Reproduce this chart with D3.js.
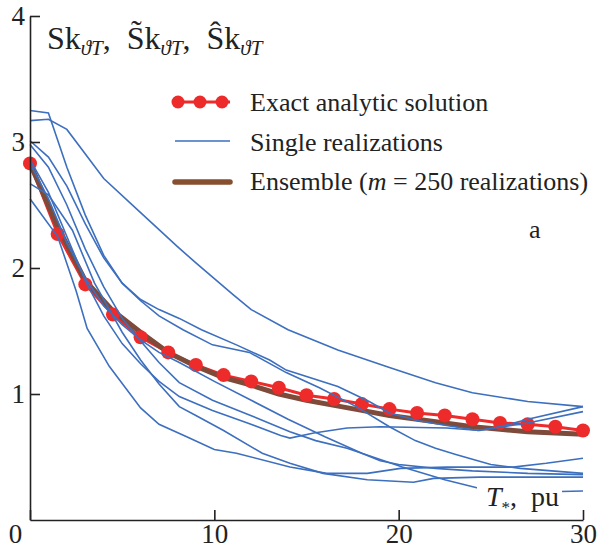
<!DOCTYPE html>
<html>
<head>
<meta charset="utf-8">
<script src="https://cdn.jsdelivr.net/npm/d3@7"></script>
<style>
  body { margin: 0; background: #fff; }
  svg text { font-family: "Liberation Serif", "Times New Roman", serif; fill: #222; }
</style>
</head>
<body>
<div id="vis-holder"></div>
<script>
// Chart size
const width = 604;
const height = 548;

// Exact analytic solution (red dots), sampled every 1.5 pu
const exactT = [0, 1.5, 3, 4.5, 6, 7.5, 9, 10.5, 12, 13.5, 15, 16.5, 18, 19.5, 21, 22.5, 24, 25.5, 27, 28.5, 30];
const exactSk = [2.83, 2.27, 1.87, 1.63, 1.45, 1.33, 1.23, 1.15, 1.10, 1.05, 0.99, 0.96, 0.92, 0.88, 0.85, 0.83, 0.80, 0.77, 0.76, 0.74, 0.71];

// Ensemble of m = 250 realizations (brown line)
const ensembleSk = [2.83, 2.33, 1.90, 1.66, 1.49, 1.33, 1.22, 1.13, 1.07, 1.00, 0.95, 0.91, 0.87, 0.83, 0.80, 0.77, 0.74, 0.72, 0.70, 0.69, 0.68];

// Single realizations (blue lines), [T, Sk] pairs
const real1 = [[0,3.17],[1,3.18],[2,3.10],[4,2.71],[6,2.44],[8,2.17],[9,2.04],[11,1.79],[12,1.67],[14,1.51],[16.7,1.35],[19.5,1.21],[22,1.09],[24,1.01],[27,0.94],[30,0.90]];
const real2 = [[0,3.25],[1,3.23],[2,2.80],[3,2.42],[4,2.10],[5,1.88],[6,1.74],[7,1.62],[8.3,1.51],[9.9,1.39],[11.9,1.33],[13.9,1.17],[15.7,1.05],[17.7,0.90],[19.5,0.74],[20.9,0.63],[22,0.57],[23.1,0.52],[25,0.44],[26.6,0.41],[30,0.37]];
const real3 = [[0,3.01],[1,2.88],[2,2.65],[3,2.35],[4,2.08],[5,1.88],[6,1.75],[7,1.67],[8.1,1.60],[9.3,1.51],[11.2,1.39],[13,1.27],[13.9,1.19],[16.7,1.06],[18.4,0.94],[19.5,0.85],[21,0.79],[22.6,0.75],[24.3,0.71],[27,0.77],[30,0.86]];
const real4 = [[0,2.86],[1,2.60],[2,2.25],[3,1.90],[4,1.62],[5,1.40],[6,1.24],[7,1.10],[8.1,0.98],[9.9,0.87],[11.8,0.77],[13.6,0.67],[14.1,0.65],[15.4,0.69],[17.2,0.73],[19,0.74],[22.6,0.73],[24.4,0.71],[25.5,0.74],[27,0.80],[30,0.90]];
const real5 = [[0,2.67],[1,2.58],[2.3,2.30],[3.5,1.88],[5,1.49],[6,1.27],[7,1.08],[8.1,0.90],[9,0.83],[10.5,0.71],[12.6,0.53],[14.1,0.45],[15.9,0.37],[18.3,0.32],[20.8,0.30],[21.9,0.33],[24.4,0.34],[30,0.34]];
const real6 = [[0,2.98],[1,2.80],[2,2.50],[3,2.15],[4,1.85],[5,1.60],[6,1.42],[7,1.25],[8.1,1.09],[9.9,0.95],[11.8,0.84],[14.1,0.70],[15.5,0.63],[17.2,0.57],[20.2,0.42],[22.5,0.32],[24.4,0.25],[27,0.22],[30,0.23]];
const real7 = [[0,2.83],[1,2.55],[2,2.20],[3,1.92],[4,1.70],[5,1.55],[6,1.43],[7,1.33],[8.1,1.25],[10,1.10],[12,0.95],[14,0.80],[16,0.66],[18,0.53],[19,0.47],[20,0.44],[22,0.41],[24,0.39],[27,0.37],[30,0.36]];
const real8 = [[0,2.55],[1.5,2.25],[2.5,1.82],[3.1,1.52],[4.3,1.22],[6,0.89],[7,0.76],[8.5,0.66],[10,0.56],[11.2,0.53],[14.1,0.42],[16.1,0.37],[18.3,0.37],[20.1,0.41],[22.6,0.42],[26.2,0.42],[28,0.45],[30,0.49]];
const realizations = [real1, real2, real3, real4, real5, real6, real7, real8];

// Tick values
const xTicks = [0, 10, 20, 30];
const yTicks = [1, 2, 3, 4];

// Colours
const blue = "#3d6fbf";
const red = "#ee2b2b";
const brown = "#7e4a3a";

const svg = d3.select("#vis-holder")
  .append("svg")
  .attr("width", width)
  .attr("height", height);

// Scales
const x = d3.scaleLinear().domain([0, 30]).range([30, 583]);
const y = d3.scaleLinear().domain([0, 4]).range([520, 16]);

const line = d3.line().x(d => x(d[0])).y(d => y(d[1]));

// Red exact solution line
const exactPts = exactT.map((t, i) => [t, exactSk[i]]);
svg.append("path")
  .attr("d", line(exactPts))
  .attr("fill", "none")
  .attr("stroke", red)
  .attr("stroke-width", 3);

// Brown ensemble line
const ensPts = exactT.map((t, i) => [t, ensembleSk[i]]);
svg.append("path")
  .attr("d", line(ensPts))
  .attr("fill", "none")
  .attr("stroke", brown)
  .attr("stroke-width", 5)
  .attr("stroke-linejoin", "round");

// Red dots
svg.selectAll(".dot")
  .data(exactPts)
  .enter()
  .append("circle")
  .attr("class", "dot")
  .attr("cx", d => x(d[0]))
  .attr("cy", d => y(d[1]))
  .attr("r", 7)
  .attr("fill", red);

// Blue single realizations
svg.selectAll(".real")
  .data(realizations)
  .enter()
  .append("path")
  .attr("class", "real")
  .attr("d", d => line(d))
  .attr("fill", "none")
  .attr("stroke", blue)
  .attr("stroke-width", 1.6);

// White box behind the x-axis label
svg.append("rect")
  .attr("x", 477).attr("y", 478)
  .attr("width", 85).attr("height", 40)
  .attr("fill", "#fff");

// Axes
const xAxis = svg.append("g")
  .attr("transform", `translate(0,${y(0)})`)
  .call(d3.axisBottom(x).tickValues(xTicks).tickFormat(d3.format("d"))
          .tickSizeInner(-10).tickSizeOuter(0).tickPadding(4));
xAxis.selectAll(".tick").filter(d => d === 0).select("text").attr("dx", "-15");

const yAxis = svg.append("g")
  .attr("transform", `translate(${x(0)},0)`)
  .call(d3.axisLeft(y).tickValues(yTicks).tickFormat(d3.format("d"))
          .tickSizeInner(-10).tickSizeOuter(0).tickPadding(5));

[xAxis, yAxis].forEach(g => g.attr("font-family", null).attr("font-size", null));
svg.selectAll(".tick text").attr("font-size", "27px").style("fill", "#222");
svg.selectAll(".domain, .tick line").attr("stroke", "#222").attr("stroke-width", 1.6);

// Y title
const title = svg.append("text").attr("x", 47).attr("y", 49).attr("font-size", "32px");
const parts = ["Sk", "S\u0303k", "\u015Ck"];
parts.forEach((p, i) => {
  title.append("tspan").text((i > 0 ? ",\u00A0 " : "") + p).attr("dy", i > 0 ? -6 : 0);
  title.append("tspan").text("\u03D1T").attr("font-size", "21px").attr("font-style", "italic").attr("dy", 6);
});

// Legend
const legX1 = 175, legX2 = 230, legText = 250;
svg.append("line").attr("x1", legX1).attr("x2", legX2).attr("y1", 102).attr("y2", 102)
  .attr("stroke", red).attr("stroke-width", 3);
svg.selectAll(".legdot").data([178, 200, 222]).enter().append("circle")
  .attr("cx", d => d).attr("cy", 102).attr("r", 6.5).attr("fill", red);
svg.append("line").attr("x1", legX1).attr("x2", legX2).attr("y1", 141).attr("y2", 141)
  .attr("stroke", blue).attr("stroke-width", 1.6);
svg.append("line").attr("x1", legX1).attr("x2", legX2).attr("y1", 182).attr("y2", 182)
  .attr("stroke", "#86502f").attr("stroke-width", 5.5).attr("stroke-linecap", "round");

svg.append("text").attr("x", legText).attr("y", 111).attr("font-size", "26px").text("Exact analytic solution");
svg.append("text").attr("x", legText).attr("y", 151).attr("font-size", "26px").text("Single realizations");
const ens = svg.append("text").attr("x", legText).attr("y", 190).attr("font-size", "26px");
ens.append("tspan").text("Ensemble (");
ens.append("tspan").attr("font-style", "italic").text("m");
ens.append("tspan").text(" = 250 realizations)");

// Panel letter
svg.append("text").attr("x", 529).attr("y", 238).attr("font-size", "26px").text("a");

// X title
const xt = svg.append("text").attr("x", 486).attr("y", 506).attr("font-size", "28px");
xt.append("tspan").attr("font-style", "italic").text("T");
xt.append("tspan").attr("font-size", "17px").attr("dy", 7).text("*");
xt.append("tspan").attr("dy", -7).text(",\u00A0 pu");
</script>
</body>
</html>
